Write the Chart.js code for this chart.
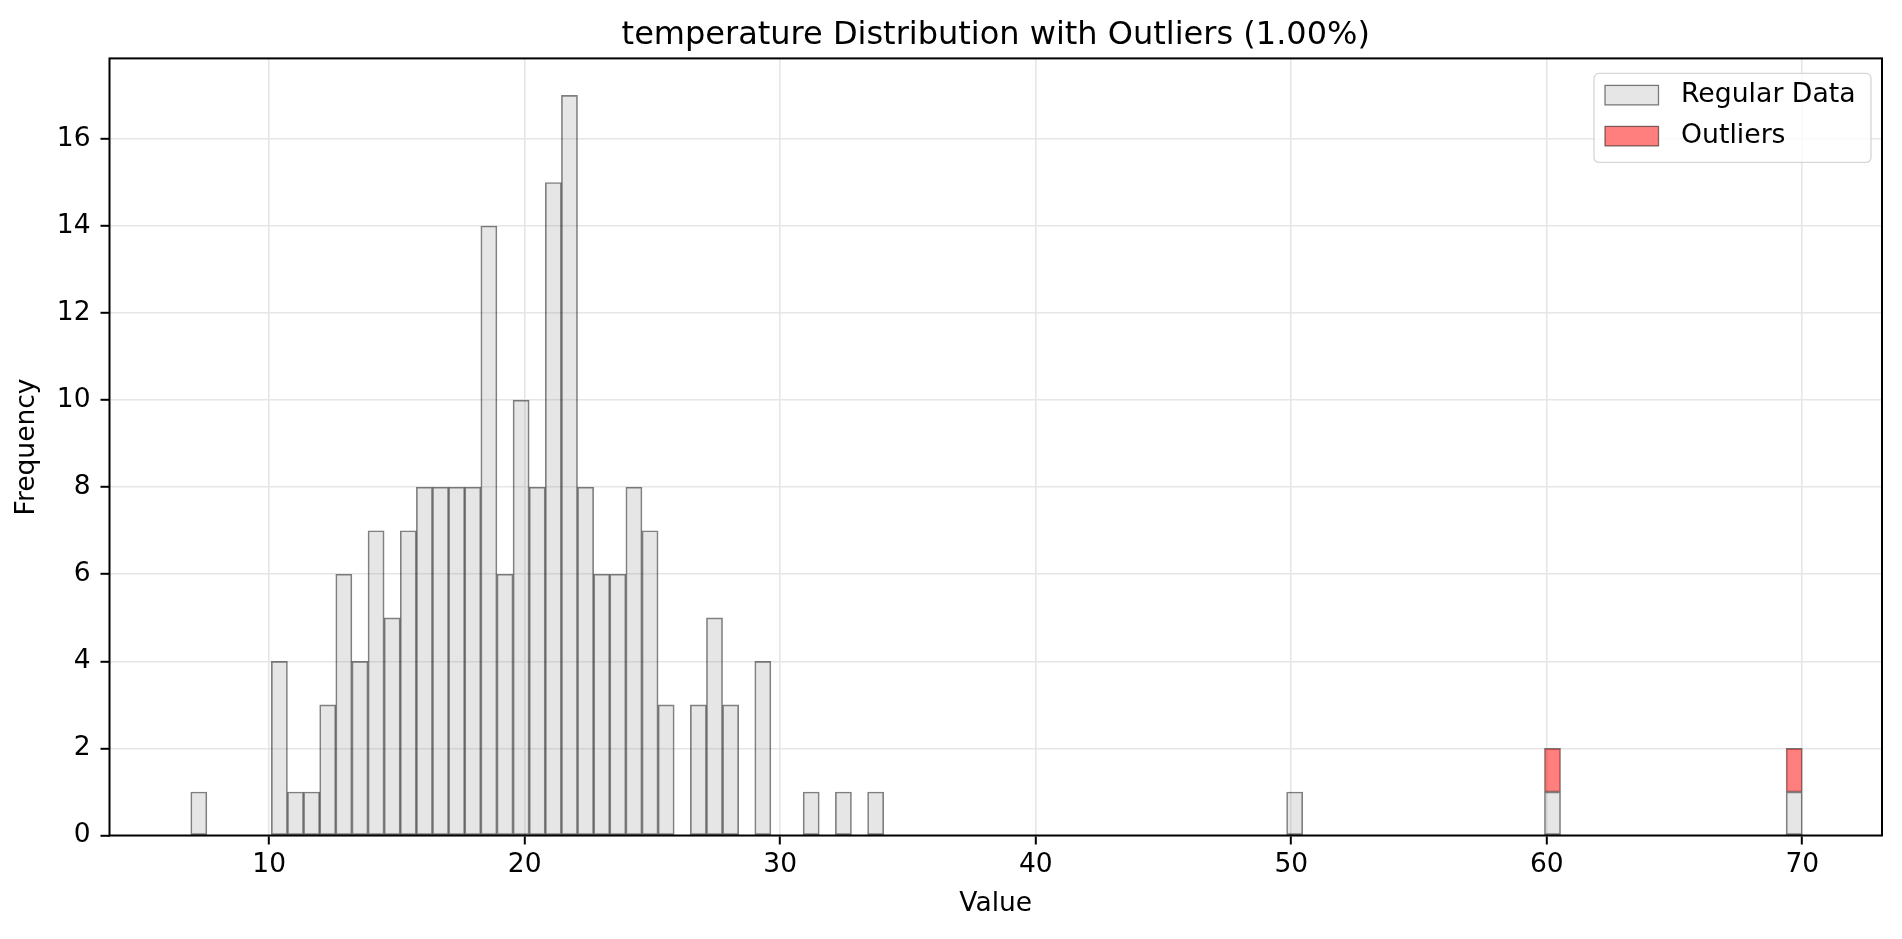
<!DOCTYPE html>
<html lang="en">
<head>
<meta charset="UTF-8" />
<title>temperature Distribution with Outliers</title>
<script src="https://cdn.jsdelivr.net/npm/chart.js"></script>
<style>
  html, body { margin: 0; padding: 0; background: #fff; }
  #wrap { width: 1902px; height: 939px; }
</style>
</head>
<body>
<div id="wrap"><canvas id="histChart"></canvas></div>
<script>
  // 100 equal bins
  const binStart = 6.93;
  const binWidth = 0.6307;
  const regularCounts = [
    1, 0, 0, 0, 0, 4, 1, 1, 3, 6,
    4, 7, 5, 7, 8, 8, 8, 8, 14, 6,
    10, 8, 15, 17, 8, 6, 6, 8, 7, 3,
    0, 3, 5, 3, 0, 4, 0, 0, 1, 0,
    1, 0, 1, 0, 0, 0, 0, 0, 0, 0,
    0, 0, 0, 0, 0, 0, 0, 0, 0, 0,
    0, 0, 0, 0, 0, 0, 0, 0, 1, 0,
    0, 0, 0, 0, 0, 0, 0, 0, 0, 0,
    0, 0, 0, 0, 1, 0, 0, 0, 0, 0,
    0, 0, 0, 0, 0, 0, 0, 0, 0, 1
  ];
  const outlierCounts = [
    0, 0, 0, 0, 0, 0, 0, 0, 0, 0,
    0, 0, 0, 0, 0, 0, 0, 0, 0, 0,
    0, 0, 0, 0, 0, 0, 0, 0, 0, 0,
    0, 0, 0, 0, 0, 0, 0, 0, 0, 0,
    0, 0, 0, 0, 0, 0, 0, 0, 0, 0,
    0, 0, 0, 0, 0, 0, 0, 0, 0, 0,
    0, 0, 0, 0, 0, 0, 0, 0, 0, 0,
    0, 0, 0, 0, 0, 0, 0, 0, 0, 0,
    0, 0, 0, 0, 1, 0, 0, 0, 0, 0,
    0, 0, 0, 0, 0, 0, 0, 0, 0, 1
  ];
  const xTicks = [10, 20, 30, 40, 50, 60, 70];
  const yTicks = [0, 2, 4, 6, 8, 10, 12, 14, 16];
  const seriesLabels = ["Regular Data", "Outliers"];

  const FONT = "'DejaVu Sans', sans-serif";
  const binCenters = regularCounts.map((_, i) => binStart + (i + 0.5) * binWidth);
  const toPoints = counts => counts.map((c, i) => ({ x: binCenters[i], y: c || null }));

  // black box round the plot, like matplotlib spines
  const frame = {
    id: "frame",
    afterDatasetsDraw(chart) {
      const { ctx, chartArea: a } = chart;
      ctx.save();
      ctx.strokeStyle = "#000";
      ctx.lineWidth = 2;
      ctx.strokeRect(a.left, a.top, a.width, a.height);
      ctx.restore();
    }
  };

  // legend inside the plot, top right, with a frame
  const boxLegend = {
    id: "boxLegend",
    afterDraw(chart) {
      const { ctx, chartArea } = chart;
      const w = 277, h = 89;
      const x = chartArea.right - 11 - w;
      const y = chartArea.top + 15;
      ctx.save();
      ctx.beginPath();
      ctx.roundRect(x, y, w, h, 5);
      ctx.fillStyle = "rgba(255,255,255,0.8)";
      ctx.fill();
      ctx.strokeStyle = "#d6d6d6";
      ctx.lineWidth = 1.3;
      ctx.stroke();
      ctx.font = "26.7px " + FONT;
      ctx.textBaseline = "middle";
      chart.data.datasets.forEach((ds, i) => {
        const py = y + 12 + i * 41;
        ctx.fillStyle = "#fff";
        ctx.fillRect(x + 11, py, 53.5, 19.5);
        ctx.fillStyle = ds.backgroundColor;
        ctx.fillRect(x + 11, py, 53.5, 19.5);
        ctx.strokeStyle = ds.borderColor;
        ctx.lineWidth = 1.3;
        ctx.strokeRect(x + 11, py, 53.5, 19.5);
        ctx.fillStyle = "#000";
        ctx.fillText(ds.label, x + 87, py + 10);
      });
      ctx.restore();
    }
  };

  const tickFont = { family: FONT, size: 26.5 };

  new Chart(document.getElementById("histChart"), {
    type: "bar",
    data: {
      datasets: [
        {
          label: seriesLabels[0],
          data: toPoints(regularCounts),
          backgroundColor: "rgba(128,128,128,0.2)",
          borderColor: "rgba(0,0,0,0.5)",
          borderWidth: 1,
          borderSkipped: false,
          barPercentage: 1,
          categoryPercentage: 1
        },
        {
          label: seriesLabels[1],
          data: toPoints(outlierCounts),
          backgroundColor: "rgba(255,0,0,0.5)",
          borderColor: "rgba(0,0,0,0.5)",
          borderWidth: 1,
          borderSkipped: false,
          barPercentage: 1,
          categoryPercentage: 1
        }
      ]
    },
    options: {
      responsive: true,
      maintainAspectRatio: false,
      animation: false,
      layout: { padding: { left: 0, right: 20, top: 0, bottom: 0 } },
      plugins: {
        legend: { display: false },
        tooltip: { enabled: false },
        title: {
          display: true,
          fullSize: false,
          text: "temperature Distribution with Outliers (1.00%)",
          color: "#000",
          font: { family: FONT, size: 32, weight: "normal" },
          padding: { top: 16.5, bottom: 3.5 }
        }
      },
      scales: {
        x: {
          type: "linear",
          min: 3.75,
          max: 73.12,
          offset: false,
          stacked: true,
          afterBuildTicks: axis => { axis.ticks = xTicks.map(v => ({ value: v })); },
          afterFit: axis => { axis.height = 103.5; },
          grid: { color: "#e6e6e6", lineWidth: 1.6, offset: false, tickLength: 9, tickColor: "#000", tickWidth: 2 },
          border: { display: false },
          ticks: { color: "#000", font: tickFont, padding: 5, maxRotation: 0 },
          title: { display: true, text: "Value", color: "#000", font: tickFont, padding: { top: 0, bottom: 19 } }
        },
        y: {
          min: 0,
          max: 17.85,
          stacked: true,
          afterBuildTicks: axis => { axis.ticks = yTicks.map(v => ({ value: v })); },
          afterFit: axis => { axis.width = 109.5; },
          grid: { color: "#e6e6e6", lineWidth: 1.6, tickLength: 9, tickColor: "#000", tickWidth: 2 },
          border: { display: false },
          ticks: { color: "#000", font: tickFont, padding: 10 },
          title: { display: true, text: "Frequency", color: "#000", font: tickFont, padding: { top: 11.6, bottom: 0 } }
        }
      }
    },
    plugins: [frame, boxLegend]
  });
</script>
</body>
</html>
